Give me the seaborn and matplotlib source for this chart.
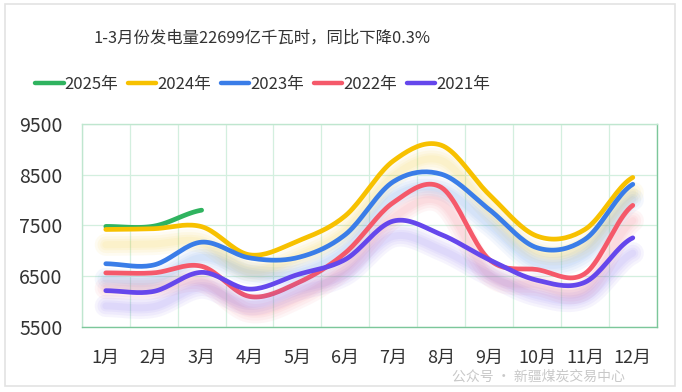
import numpy as np
import pandas as pd
import matplotlib
matplotlib.use("Agg")
import matplotlib.pyplot as plt
import matplotlib.patheffects as pe
from matplotlib.patches import Rectangle
import seaborn as sns

# values (100 million kWh per month)
months = ["1月", "2月", "3月", "4月", "5月", "6月", "7月", "8月", "9月", "10月", "11月", "12月"]
years = ["2025年", "2024年", "2023年", "2022年", "2021年"]
gen_2025 = [7480, 7485, 7800]
gen_2024 = [7420, 7435, 7475, 6920, 7190, 7690, 8770, 9080, 8110, 7290, 7420, 8445]
gen_2023 = [6745, 6720, 7170, 6860, 6865, 7320, 8360, 8510, 7815, 7060, 7225, 8310]
gen_2022 = [6565, 6565, 6695, 6100, 6365, 6960, 7950, 8250, 6830, 6630, 6550, 7895]
gen_2021 = [6215, 6200, 6575, 6245, 6530, 6830, 7585, 7320, 6825, 6420, 6380, 7255]
colors = ["#2fb35f", "#f7c100", "#3a7de8", "#f5596a", "#6547ec"]

y_ticks = [5500, 6500, 7500, 8500, 9500]
title = "1-3月份发电量22699亿千瓦时，同比下降0.3%"
watermark = "公众号 · 新疆煤炭交易中心"


def smooth(x, y, n=20):
    # cardinal spline through the points, like a "smooth" line option
    x = np.asarray(x, float)
    y = np.asarray(y, float)
    if len(x) < 3:
        return x, y
    px = np.concatenate([[2 * x[0] - x[1]], x, [2 * x[-1] - x[-2]]])
    py = np.concatenate([[y[0]], y, [y[-1]]])
    xs, ys = [], []
    t = np.linspace(0, 1, n, endpoint=False)
    for i in range(1, len(px) - 2):
        p0, p1, p2, p3 = py[i - 1], py[i], py[i + 1], py[i + 2]
        ys.append(0.5 * ((2 * p1) + (-p0 + p2) * t + (2 * p0 - 5 * p1 + 4 * p2 - p3) * t ** 2
                         + (-p0 + 3 * p1 - 3 * p2 + p3) * t ** 3))
        xs.append(px[i] + (px[i + 1] - px[i]) * t)
    xs.append([x[-1]])
    ys.append([y[-1]])
    return np.concatenate(xs), np.concatenate(ys)


series = [gen_2025, gen_2024, gen_2023, gen_2022, gen_2021]
frames = []
for name, vals in zip(years, series):
    sx, sy = smooth(np.arange(1, len(vals) + 1), vals)
    frames.append(pd.DataFrame({"month": sx, "value": sy, "year": name}))
df = pd.concat(frames, ignore_index=True)

sns.set_style("white")
plt.rcParams["font.family"] = ["Noto Sans CJK SC", "DejaVu Sans"]

fig = plt.figure(figsize=(6.82, 3.92), dpi=100)
ax = fig.add_axes([0.120, 0.166, 0.843, 0.518])

sns.lineplot(data=df, x="month", y="value", hue="year", hue_order=years,
             palette=colors, linewidth=3.4, sort=False, estimator=None,
             legend=False, ax=ax, zorder=3)

# soft blurred shadow under every line
for line, c in zip(ax.get_lines(), colors):
    line.set_solid_capstyle("round")
    if c == colors[0]:
        continue
    line.set_path_effects(
        [pe.SimpleLineShadow(offset=(0, -11), shadow_color=c, alpha=0.055, linewidth=w)
         for w in (16, 12, 8, 5)] + [pe.Normal()])

ax.set_xlim(0.5, 12.5)
ax.set_ylim(5500, 9500)
ax.set_xticks(range(1, 13))
ax.set_xticklabels(months, fontsize=13, color="#333333")
ax.set_yticks(y_ticks)
ax.set_yticklabels([str(v) for v in y_ticks], fontsize=14, color="#333333")
ax.set_xticks(np.arange(0.5, 12.6, 0.5), minor=True)
ax.tick_params(axis="x", length=0, pad=16)
ax.tick_params(axis="y", length=0, pad=14)
ax.grid(True, which="minor", axis="x", color="#d3efdf", linewidth=0.9)
ax.grid(True, which="major", axis="y", color="#d3efdf", linewidth=0.9)
ax.set_xlabel("")
ax.set_ylabel("")
for side in ["left", "top"]:
    ax.spines[side].set_color("#bfe6cf")
for side in ["right", "bottom"]:
    ax.spines[side].set_color("#7cc79a")
for s in ax.spines.values():
    s.set_linewidth(1.0)

handles = [plt.Line2D([], [], color=c, linewidth=3.2, solid_capstyle="round") for c in colors]
fig.legend(handles, years, loc="center", bbox_to_anchor=(0.385, 0.785), ncol=5,
           frameon=False, fontsize=12, handlelength=1.7, handletextpad=0.05,
           columnspacing=0.6, labelcolor="#333333")

fig.text(0.384, 0.903, title, ha="center", va="center", fontsize=11.8, color="#333333")
fig.text(0.79, 0.040, watermark, ha="center", va="center", fontsize=10,
         color="#bbbbbb", alpha=0.8)

fig.patches.append(Rectangle((0.008, 0.015), 0.982, 0.974, transform=fig.transFigure,
                             fill=False, edgecolor="#e3e3e3", linewidth=1.2))

fig.savefig("out.png", dpi=100)
